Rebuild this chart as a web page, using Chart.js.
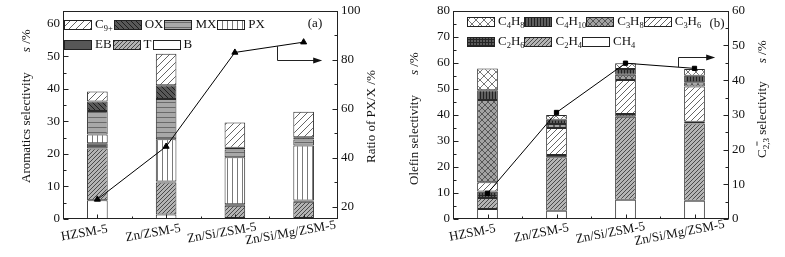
<!DOCTYPE html>
<html><head><meta charset="utf-8">
<script src="https://cdn.jsdelivr.net/npm/chart.js@4/dist/chart.umd.min.js"></script>
<style>
html,body{margin:0;padding:0;background:#fff;}
#wrap{position:relative;width:785px;height:257px;overflow:hidden;background:#fff;}
#ca{position:absolute;left:0;top:0;}
#cb{position:absolute;left:392px;top:0;}
</style></head><body>
<div id="wrap"><canvas id="ca" width="392" height="257"></canvas><canvas id="cb" width="393" height="257"></canvas></div>
<script>
const categories = ['HZSM-5', 'Zn/ZSM-5', 'Zn/Si/ZSM-5', 'Zn/Si/Mg/ZSM-5'];

// ---- panel (a): aromatics selectivity, s /% ----
const aB   = [5.8, 1.4, 0.3, 0.3];
const aT   = [15.9, 9.8, 3.8, 5.0];
const aEB  = [1.6, 0.3, 0.4, 0.4];
const aPX  = [2.7, 13.0, 14.5, 16.9];
const aMX  = [7.2, 12.4, 2.4, 1.8];
const aOX  = [2.9, 4.2, 0.5, 0.7];
const aC9  = [3.1, 9.7, 7.8, 7.9];
const aRatioPXX = [23.0, 44.6, 83.0, 87.2];
const aLeftTicks  = [0, 10, 20, 30, 40, 50, 60];
const aRightTicks = [20, 40, 60, 80, 100];

// ---- panel (b): olefin selectivity, s /% ----
const bCH4  = [3.8, 3.2, 7.4, 7.0];
const bC2H4 = [4.3, 20.5, 31.9, 29.7];
const bC2H6 = [2.5, 0.9, 1.0, 0.7];
const bC3H6 = [3.5, 10.4, 13.1, 13.5];
const bC3H8 = [31.6, 1.5, 2.0, 1.6];
const bC4H10 = [3.8, 1.6, 2.2, 2.5];
const bC4H8 = [8.3, 1.9, 2.2, 2.6];
const bC23ene = [7.4, 30.7, 44.9, 43.4];
const bLeftTicks  = [0, 10, 20, 30, 40, 50, 60, 70, 80];
const bRightTicks = [0, 10, 20, 30, 40, 50, 60];

const FONT = "'Liberation Serif', 'Times New Roman', serif";
const TXT = '#111';

// ---------- patterns ----------
function tile(w, h, bg, fn) {
  const c = document.createElement('canvas'); c.width = w; c.height = h;
  const g = c.getContext('2d'); g.fillStyle = bg; g.fillRect(0, 0, w, h);
  if (fn) fn(g, w, h);
  return g.createPattern(c, 'repeat');
}
function fwd(g, s, col, lw) { g.strokeStyle = col; g.lineWidth = lw || 1; g.beginPath();
  for (const k of [0, s, 2 * s]) { g.moveTo(k - s - 1, s + 1); g.lineTo(k + 1, -1); } g.stroke(); }
function back(g, s, col, lw) { g.strokeStyle = col; g.lineWidth = lw || 1; g.beginPath();
  for (const k of [-s, 0, s]) { g.moveTo(k - 1, -1); g.lineTo(k + s + 1, s + 1); } g.stroke(); }
const P = {
  white: '#ffffff',
  denseFwd: tile(4, 4, '#b4b4b4', g => fwd(g, 4, '#4a4a4a', 1)),
  eb: '#575757',
  vert: tile(5, 5, '#ffffff', g => { g.fillStyle = '#7a7a7a'; g.fillRect(2, 0, 1, 5); }),
  horiz: tile(5, 5, '#a8a8a8', g => { g.fillStyle = '#6a6a6a'; g.fillRect(0, 2, 5, 1); }),
  ox: tile(5, 5, '#595959', g => back(g, 5, '#1e1e1e', 1)),
  sparseFwd: tile(7, 7, '#ffffff', g => fwd(g, 7, '#666', 1)),
  grid: tile(3, 3, '#5c5c5c', g => { g.fillStyle = '#262626'; g.fillRect(0, 0, 3, 1); g.fillRect(0, 0, 1, 3); }),
  crossGray: tile(6, 6, '#a2a2a2', g => { fwd(g, 6, '#555', 1); back(g, 6, '#555', 1); }),
  vertDark: tile(3, 3, '#5e5e5e', g => { g.fillStyle = '#222'; g.fillRect(1, 0, 1, 3); }),
  crossWhite: tile(8, 8, '#ffffff', g => { fwd(g, 8, '#777', 1); back(g, 8, '#777', 1); }),
  c3h6: tile(6, 6, '#ffffff', g => fwd(g, 6, '#666', 1))
};

// ---------- rich text ----------
function formulaRuns(s) {
  const runs = []; const re = /([0-9+]+)|([^0-9+]+)/g; let m;
  while ((m = re.exec(s))) { if (m[1]) runs.push({ t: m[1], sub: true }); else runs.push({ t: m[2] }); }
  return runs;
}
function drawRuns(ctx, runs, x, y, size, measureOnly) {
  let cx = x;
  ctx.textAlign = 'left'; ctx.textBaseline = 'middle';
  for (const r of runs) {
    if (r.stack) {
      ctx.font = `${size * 0.7}px ${FONT}`;
      const w1 = ctx.measureText(r.sub).width, w2 = ctx.measureText(r.sup).width;
      if (!measureOnly) {
        ctx.fillText(r.sub, cx, y + size * 0.3);
        ctx.fillText(r.sup, cx + (w1 - w2) / 2, y - size * 0.38);
      }
      cx += Math.max(w1, w2);
      continue;
    }
    if (r.gap) { cx += r.gap; continue; }
    const fs = (r.sub || r.sup) ? size * 0.65 : size;
    ctx.font = `${r.italic ? 'italic ' : ''}${fs}px ${FONT}`;
    const dy = r.sub ? size * 0.3 : r.sup ? -size * 0.38 : 0;
    if (!measureOnly) ctx.fillText(r.t, cx, y + dy);
    cx += ctx.measureText(r.t).width;
  }
  return cx - x;
}

// ---------- panel plugin ----------
function panelPlugin(cfg) {
  return {
    id: 'panel' + cfg.name,
    afterDatasetsDraw(chart) {
      const ctx = chart.ctx, ca = chart.chartArea;
      const sx = chart.scales.x, sy = chart.scales.y, sy2 = chart.scales.y2;
      ctx.save();
      ctx.strokeStyle = '#222'; ctx.fillStyle = TXT; ctx.lineWidth = 1;
      const L = Math.round(ca.left) + 0.5, R = Math.round(ca.right) - 0.5;
      const T = Math.round(ca.top) + 0.5, B = Math.round(ca.bottom) - 0.5;
      ctx.strokeRect(L, T, R - L, B - T);
      // y ticks (inward)
      ctx.beginPath();
      for (let v = sy.min; v <= sy.max + 1e-9; v += cfg.leftMinor) {
        const yy = Math.round(sy.getPixelForValue(v)) + 0.5;
        const major = Math.abs(v / cfg.leftMajor - Math.round(v / cfg.leftMajor)) < 1e-6;
        ctx.moveTo(L, yy); ctx.lineTo(L + (major ? 5 : 3), yy);
      }
      const r0 = Math.ceil(sy2.min / cfg.rightMinor) * cfg.rightMinor;
      for (let v = r0; v <= sy2.max + 1e-9; v += cfg.rightMinor) {
        const yy = Math.round(sy2.getPixelForValue(v)) + 0.5;
        const major = Math.abs(v / cfg.rightMajor - Math.round(v / cfg.rightMajor)) < 1e-6;
        ctx.moveTo(R, yy); ctx.lineTo(R - (major ? 5 : 3), yy);
      }
      // x ticks
      for (let i = 0; i < categories.length; i++) {
        const xx = Math.round(sx.getPixelForValue(i)) + 0.5;
        ctx.moveTo(xx, B); ctx.lineTo(xx, B - 4);
        if (i < categories.length - 1) {
          const xm = Math.round(sx.getPixelForValue(i + 0.5)) + 0.5;
          ctx.moveTo(xm, B); ctx.lineTo(xm, B - 2);
        }
      }
      ctx.stroke();
      // arrow
      const line = cfg.lineData;
      const i0 = Math.floor(cfg.arrow.cat), f = cfg.arrow.cat - i0;
      const lv = line[i0] + (line[i0 + 1] - line[i0]) * f;
      const ax = Math.round(sx.getPixelForValue(cfg.arrow.cat)) + 0.5;
      const ay0 = sy2.getPixelForValue(lv), ay1 = Math.round(sy2.getPixelForValue(cfg.arrow.level)) + 0.5;
      const ax2 = sx.getPixelForValue(cfg.arrow.end);
      ctx.beginPath(); ctx.moveTo(ax, ay0); ctx.lineTo(ax, ay1); ctx.lineTo(ax2 - 7, ay1); ctx.stroke();
      ctx.beginPath(); ctx.moveTo(ax2, ay1); ctx.lineTo(ax2 - 9, ay1 - 3); ctx.lineTo(ax2 - 9, ay1 + 3); ctx.closePath(); ctx.fill();
      // category labels
      ctx.font = `13px ${FONT}`; ctx.textAlign = 'center'; ctx.textBaseline = 'middle';
      for (let i = 0; i < categories.length; i++) {
        ctx.save();
        ctx.translate(sx.getPixelForValue(i) + cfg.catDx, ca.bottom + cfg.catDy);
        ctx.rotate(-cfg.catRot * Math.PI / 180);
        ctx.fillText(categories[i], 0, 0);
        ctx.restore();
      }
      // legend: swatches first, then text on top
      const ds = chart.data.datasets;
      const texts = [];
      cfg.legendRows.forEach((row, ri) => {
        let x = ca.left + cfg.legendX;
        const yc = ca.top + cfg.legendY[ri];
        row.forEach(idx => {
          const d = ds[idx];
          ctx.fillStyle = d.backgroundColor; ctx.fillRect(Math.round(x), Math.round(yc - 5), 28, 10);
          ctx.strokeStyle = '#222'; ctx.strokeRect(Math.round(x) + 0.5, Math.round(yc - 5) + 0.5, 27, 9);
          const runs = formulaRuns(d.label);
          const w = drawRuns(ctx, runs, x + 31, yc, 13, true);
          texts.push([runs, x + 31, yc]);
          x += 31 + w + cfg.legendGap;
        });
      });
      ctx.fillStyle = TXT;
      texts.forEach(([runs, x, y]) => drawRuns(ctx, runs, x, y, 13));
      // panel label
      ctx.fillStyle = TXT; ctx.font = `13px ${FONT}`; ctx.textAlign = 'center'; ctx.textBaseline = 'middle';
      ctx.fillText(cfg.panelLabel, ca.right + cfg.panelDx, ca.top + 13);
      // axis titles
      ctx.save(); ctx.translate(ca.left + cfg.leftTitle.dx, ca.bottom + cfg.leftTitle.dy); ctx.rotate(-Math.PI / 2);
      drawRuns(ctx, cfg.leftTitle.runs, 0, 0, 13); ctx.restore();
      ctx.save(); ctx.translate(ca.right + cfg.rightTitle.dx, ca.bottom + cfg.rightTitle.dy); ctx.rotate(-Math.PI / 2);
      drawRuns(ctx, cfg.rightTitle.runs, 0, 0, 13); ctx.restore();
      ctx.restore();
    }
  };
}

function bar(label, data, bg) {
  return { type: 'bar', label, data, backgroundColor: bg, borderColor: '#2a2a2a', borderWidth: 1,
    borderSkipped: false, yAxisID: 'y', stack: 's', order: 1, barPercentage: 0.3, categoryPercentage: 1.0 };
}

function makeChart(canvas, cfg) {
  const tickFont = { family: FONT, size: 13 };
  return new Chart(canvas, {
    type: 'bar',
    data: { labels: categories, datasets: cfg.datasets },
    options: {
      responsive: false, animation: false, devicePixelRatio: 1,
      layout: { padding: { top: 10, left: 0, right: 0, bottom: 0 } },
      plugins: { legend: { display: false }, tooltip: { enabled: false } },
      scales: {
        x: { stacked: true, offset: true, grid: { display: false, drawTicks: false }, border: { display: false },
             ticks: { display: false }, afterFit(s) { s.height = cfg.xH; } },
        y: { stacked: true, position: 'left', min: cfg.leftMin, max: cfg.leftMax,
             grid: { display: false, drawTicks: false }, border: { display: false },
             ticks: { font: tickFont, color: TXT, padding: 3 },
             afterBuildTicks(s) { s.ticks = cfg.leftTicks.map(v => ({ value: v })); },
             afterFit(s) { s.width = cfg.leftW; } },
        y2: { position: 'right', min: cfg.rightMin, max: cfg.rightMax,
             grid: { display: false, drawTicks: false }, border: { display: false },
             ticks: { font: tickFont, color: TXT, padding: 3 },
             afterBuildTicks(s) { s.ticks = cfg.rightTicks.map(v => ({ value: v })); },
             afterFit(s) { s.width = cfg.rightW; } }
      }
    },
    plugins: [panelPlugin(cfg)]
  });
}

// ---- chart (a) ----
makeChart(document.getElementById('ca'), {
  name: 'a', xH: 38, leftW: 63, rightW: 54,
  leftMin: 0, leftMax: 64, rightMin: 15, rightMax: 100,
  leftTicks: aLeftTicks, rightTicks: aRightTicks,
  leftMajor: 10, leftMinor: 5, rightMajor: 20, rightMinor: 10,
  lineData: aRatioPXX,
  arrow: { cat: 2.61, level: 80, end: 3.27 },
  catDx: -13, catDy: 14, catRot: 10,
  legendX: 1, legendY: [14, 34], legendGap: 1,
  legendRows: [[7, 6, 5, 4], [3, 2, 1]],
  panelLabel: '(a)', panelDx: -23,
  leftTitle: { dx: -36, dy: -36, runs: [{ t: 'Aromatics selectivity' }, { gap: 20 }, { t: 's', italic: true }, { t: ' /%' }] },
  rightTitle: { dx: 34, dy: -56, runs: [{ t: 'Ratio of PX/X /%' }] },
  datasets: [
    { type: 'line', label: 'Ratio of PX/X', data: aRatioPXX, yAxisID: 'y2', order: 0,
      borderColor: '#000', backgroundColor: '#000', borderWidth: 1, pointStyle: 'triangle',
      pointRadius: 3.5, pointBackgroundColor: '#000', pointBorderColor: '#000', tension: 0 },
    bar('B', aB, P.white),
    bar('T', aT, P.denseFwd),
    bar('EB', aEB, P.eb),
    bar('PX', aPX, P.vert),
    bar('MX', aMX, P.horiz),
    bar('OX', aOX, P.ox),
    bar('C9+', aC9, P.sparseFwd)
  ]
});

// ---- chart (b) ----
makeChart(document.getElementById('cb'), {
  name: 'b', xH: 38, leftW: 61, rightW: 56,
  leftMin: 0, leftMax: 80, rightMin: 0, rightMax: 60,
  leftTicks: bLeftTicks, rightTicks: bRightTicks,
  leftMajor: 10, leftMinor: 5, rightMajor: 10, rightMinor: 5,
  lineData: bC23ene,
  arrow: { cat: 2.76, level: 46.7, end: 3.30 },
  catDx: -15, catDy: 14, catRot: 11,
  legendX: 14, legendY: [11, 31], legendGap: 0,
  legendRows: [[7, 6, 5, 4], [3, 2, 1]],
  panelLabel: '(b)', panelDx: -12,
  leftTitle: { dx: -38, dy: -34, runs: [{ t: 'Olefin selectivity' }, { gap: 20 }, { t: 's', italic: true }, { t: ' /%' }] },
  rightTitle: { dx: 34, dy: -61, runs: [{ t: 'C' }, { stack: true, sub: '2,3', sup: '=' }, { t: ' selectivity' }, { gap: 18 }, { t: 's', italic: true }, { t: ' /%' }] },
  datasets: [
    { type: 'line', label: 'C2,3= selectivity', data: bC23ene, yAxisID: 'y2', order: 0,
      borderColor: '#000', backgroundColor: '#000', borderWidth: 1, pointStyle: 'rect',
      pointRadius: 3, pointBackgroundColor: '#000', pointBorderColor: '#000', tension: 0 },
    bar('CH4', bCH4, P.white),
    bar('C2H4', bC2H4, P.denseFwd),
    bar('C2H6', bC2H6, P.grid),
    bar('C3H6', bC3H6, P.c3h6),
    bar('C3H8', bC3H8, P.crossGray),
    bar('C4H10', bC4H10, P.vertDark),
    bar('C4H8', bC4H8, P.crossWhite)
  ]
});
</script>
</body></html>
